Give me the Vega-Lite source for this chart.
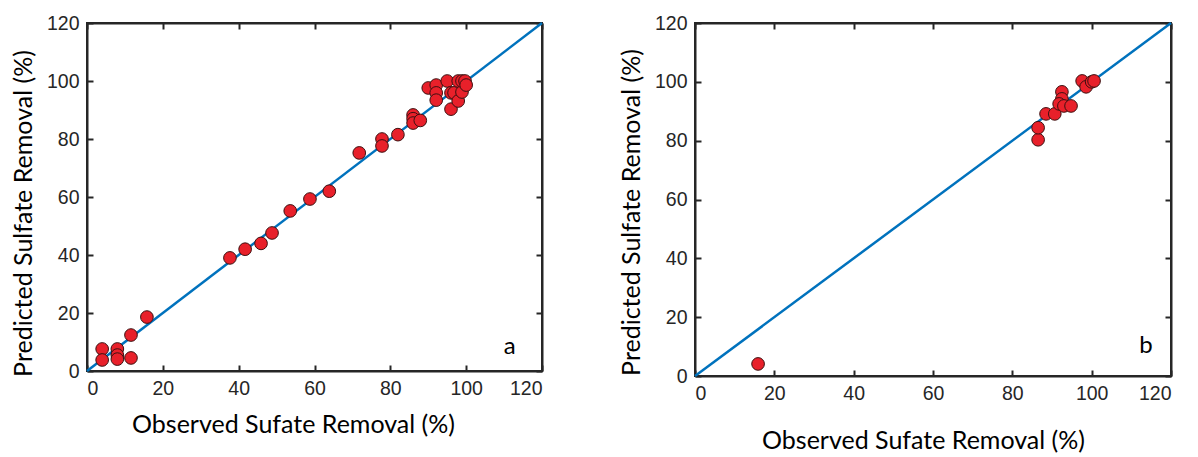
{
  "$schema": "https://vega.github.io/schema/vega-lite/v6.json",
  "background": "white",
  "padding": {"left": 10, "top": 12, "right": 5, "bottom": 5},
  "config": {
    "view": {"stroke": "#262626", "strokeWidth": 2},
    "axis": {
      "grid": false,
      "domainColor": "#262626", "domainWidth": 2,
      "tickColor": "#262626", "tickWidth": 2, "tickSize": -6, "labelPadding": 14,
      "labelFont": "Liberation Sans", "labelFontSize": 19.5, "labelColor": "#262626",
      "titleFont": "Lato", "titleFontSize": 25, "titleFontWeight": "normal", "titleColor": "#000000"
    }
  },
  "datasets": {
    "pts": [
      {"panel": "a", "obs": 4, "pred": 7.6},
      {"panel": "a", "obs": 4, "pred": 3.8},
      {"panel": "a", "obs": 8, "pred": 7.6},
      {"panel": "a", "obs": 8, "pred": 5.5},
      {"panel": "a", "obs": 8, "pred": 4.1},
      {"panel": "a", "obs": 11.6, "pred": 12.4},
      {"panel": "a", "obs": 11.6, "pred": 4.5},
      {"panel": "a", "obs": 15.8, "pred": 18.6},
      {"panel": "a", "obs": 37.7, "pred": 39},
      {"panel": "a", "obs": 41.7, "pred": 42},
      {"panel": "a", "obs": 45.9, "pred": 44},
      {"panel": "a", "obs": 48.8, "pred": 47.6},
      {"panel": "a", "obs": 53.6, "pred": 55.2},
      {"panel": "a", "obs": 58.8, "pred": 59.3},
      {"panel": "a", "obs": 63.9, "pred": 62},
      {"panel": "a", "obs": 71.8, "pred": 75.2},
      {"panel": "a", "obs": 77.8, "pred": 80},
      {"panel": "a", "obs": 77.8, "pred": 77.6},
      {"panel": "a", "obs": 82, "pred": 81.5},
      {"panel": "a", "obs": 86, "pred": 88.3},
      {"panel": "a", "obs": 86, "pred": 87},
      {"panel": "a", "obs": 86, "pred": 85.5},
      {"panel": "a", "obs": 87.9, "pred": 86.4},
      {"panel": "a", "obs": 90, "pred": 97.6},
      {"panel": "a", "obs": 92.1, "pred": 98.6},
      {"panel": "a", "obs": 92.1, "pred": 95.9},
      {"panel": "a", "obs": 92.1, "pred": 93.4},
      {"panel": "a", "obs": 95, "pred": 100},
      {"panel": "a", "obs": 96, "pred": 95.9},
      {"panel": "a", "obs": 96, "pred": 90.3},
      {"panel": "a", "obs": 96.8, "pred": 95.9},
      {"panel": "a", "obs": 97.9, "pred": 100},
      {"panel": "a", "obs": 97.9, "pred": 93.1},
      {"panel": "a", "obs": 98.9, "pred": 96.2},
      {"panel": "a", "obs": 98.9, "pred": 100},
      {"panel": "a", "obs": 99.7, "pred": 100},
      {"panel": "a", "obs": 100, "pred": 98.6},
      {"panel": "b", "obs": 15.9, "pred": 4.1},
      {"panel": "b", "obs": 86.5, "pred": 80.3},
      {"panel": "b", "obs": 86.5, "pred": 84.4},
      {"panel": "b", "obs": 88.5, "pred": 89.1},
      {"panel": "b", "obs": 90.7, "pred": 89.1},
      {"panel": "b", "obs": 92.5, "pred": 96.6},
      {"panel": "b", "obs": 92.5, "pred": 94.2},
      {"panel": "b", "obs": 91.8, "pred": 92.5},
      {"panel": "b", "obs": 93, "pred": 91.8},
      {"panel": "b", "obs": 94.8, "pred": 91.8},
      {"panel": "b", "obs": 97.6, "pred": 100.3},
      {"panel": "b", "obs": 98.6, "pred": 98.3},
      {"panel": "b", "obs": 100, "pred": 100},
      {"panel": "b", "obs": 100.6, "pred": 100.3}
    ],
    "diag": [{"obs": 0, "pred": 0}, {"obs": 120, "pred": 120}],
    "labs": [
      {"panel": "a", "obs": 111.5, "pred": 8.3, "t": "a"},
      {"panel": "b", "obs": 113.7, "pred": 10.2, "t": "b"}
    ]
  },
  "spacing": 70,
  "hconcat": [
    {
      "width": 455, "height": 348,
      "layer": [
        {
          "data": {"name": "diag"},
          "mark": {"type": "line", "color": "#0072BD", "strokeWidth": 2.5},
          "encoding": {
            "x": {"field": "obs", "type": "quantitative", "scale": {"domain": [0, 120]}, "axis": {"orient": "top", "labels": false, "title": null, "values": [0,20,40,60,80,100,120]}},
            "y": {"field": "pred", "type": "quantitative", "scale": {"domain": [0, 120]}, "axis": {"orient": "right", "labels": false, "title": null, "values": [0,20,40,60,80,100,120]}}
          }
        },
        {
          "data": {"name": "pts"},
          "transform": [{"filter": "datum.panel === 'a'"}],
          "mark": {"type": "point", "filled": true, "fill": "#E8202A", "stroke": "#3a1010", "strokeWidth": 1, "opacity": 1, "size": 160},
          "encoding": {
            "x": {"field": "obs", "type": "quantitative", "scale": {"domain": [0, 120]}, "axis": {"orient": "bottom", "title": "Observed Sufate Removal (%)", "values": [0,20,40,60,80,100,120], "titlePadding": 15, "titleX": 206}},
            "y": {"field": "pred", "type": "quantitative", "scale": {"domain": [0, 120]}, "axis": {"orient": "left", "title": "Predicted Sulfate Removal (%)", "values": [0,20,40,60,80,100,120], "titlePadding": 10, "titleY": 190}}
          }
        },
        {
          "data": {"name": "labs"},
          "transform": [{"filter": "datum.panel === 'a'"}],
          "mark": {"type": "text", "font": "Lato", "fontSize": 24, "color": "#000"},
          "encoding": {
            "x": {"field": "obs", "type": "quantitative", "axis": null},
            "y": {"field": "pred", "type": "quantitative", "axis": null},
            "text": {"field": "t"}
          }
        }
      ],
      "resolve": {"axis": {"x": "independent", "y": "independent"}}
    },
    {
      "width": 476, "height": 353,
      "layer": [
        {
          "data": {"name": "diag"},
          "mark": {"type": "line", "color": "#0072BD", "strokeWidth": 2.5},
          "encoding": {
            "x": {"field": "obs", "type": "quantitative", "scale": {"domain": [0, 120]}, "axis": {"orient": "top", "labels": false, "title": null, "values": [0,20,40,60,80,100,120]}},
            "y": {"field": "pred", "type": "quantitative", "scale": {"domain": [0, 120]}, "axis": {"orient": "right", "labels": false, "title": null, "values": [0,20,40,60,80,100,120]}}
          }
        },
        {
          "data": {"name": "pts"},
          "transform": [{"filter": "datum.panel === 'b'"}],
          "mark": {"type": "point", "filled": true, "fill": "#E8202A", "stroke": "#3a1010", "strokeWidth": 1, "opacity": 1, "size": 160},
          "encoding": {
            "x": {"field": "obs", "type": "quantitative", "scale": {"domain": [0, 120]}, "axis": {"orient": "bottom", "title": "Observed Sufate Removal (%)", "values": [0,20,40,60,80,100,120], "titlePadding": 26, "titleX": 228}},
            "y": {"field": "pred", "type": "quantitative", "scale": {"domain": [0, 120]}, "axis": {"orient": "left", "title": "Predicted Sulfate Removal (%)", "values": [0,20,40,60,80,100,120], "titlePadding": 10, "titleY": 189}}
          }
        },
        {
          "data": {"name": "labs"},
          "transform": [{"filter": "datum.panel === 'b'"}],
          "mark": {"type": "text", "font": "Lato", "fontSize": 24, "color": "#000"},
          "encoding": {
            "x": {"field": "obs", "type": "quantitative", "axis": null},
            "y": {"field": "pred", "type": "quantitative", "axis": null},
            "text": {"field": "t"}
          }
        }
      ],
      "resolve": {"axis": {"x": "independent", "y": "independent"}}
    }
  ]
}
